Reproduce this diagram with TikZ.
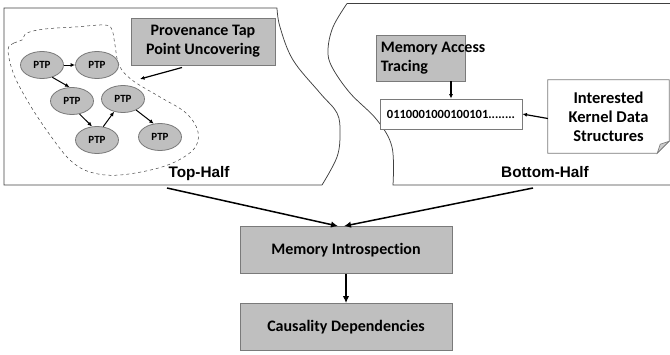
\documentclass[tikz,border=0pt]{standalone}
\usepackage{fontspec}
\setmainfont{Carlito}[BoldFont={Carlito Bold}, Ligatures=NoCommon]
\newfontfamily\labelfont{Liberation Sans}
\usetikzlibrary{shapes.geometric,arrows.meta}
\definecolor{boxfill}{HTML}{BFBFBF}
\definecolor{boxline}{HTML}{7A7A7A}
\definecolor{panelline}{HTML}{404040}
\tikzset{
  boxtext/.style={font=\fontsize{16}{19}\selectfont\bfseries},
  graybox/.style={draw=boxline, fill=boxfill, line width=0.8pt, inner sep=0pt,
    align=center, boxtext},
  ptp/.style={ellipse, draw=boxline, fill=boxfill, line width=0.8pt,
    minimum width=43pt, minimum height=27pt, inner sep=0pt,
    font=\fontsize{11}{13}\selectfont\bfseries},
  flow/.style={-{Latex[length=7pt,width=6.5pt]}, line width=1.5pt},
  link/.style={-{Latex[length=4.5pt,width=4pt]}, line width=1pt},
  panel/.style={draw=panelline, line width=0.75pt},
  halflabel/.style={font=\labelfont\fontsize{15.3}{18}\selectfont\bfseries},
}
\begin{document}
\begin{tikzpicture}[x=1pt,y=-1pt]
\useasboundingbox (0,0) rectangle (670,354);

% Top-Half panel with its wavy right side
\draw[panel] (322,185) -- (4,185) -- (4,8) -- (277,8)
  plot[smooth, tension=0.6] coordinates {(277,8) (280,27) (293,60) (320,93) (337,113) (340,133) (337,157) (322,185)};

% Bottom-Half panel, open at the right
\draw[panel] (670,3.5) -- (347,3.5)
  plot[smooth, tension=0.6] coordinates {(347,3.5) (333,27) (328,50) (332,67) (350,93) (377,120) (392,147) (393,185)}
  -- (670,185);

% dashed region around the tap points
\draw[dashed, draw=black!75, line width=0.5pt]
  plot[smooth cycle, tension=0.6] coordinates {
    (8,50) (14,43) (22,40) (27,33) (45,29) (75,27) (105,25) (112,30)
    (115,45) (119,65) (132,80) (160,97) (186,113) (198,132) (193,150)
    (165,166) (120,175) (90,172) (70,160) (50,135) (30,105) (14,75)};
\coordinate (blob) at (140,79);

% provenance tap points
\node[ptp] (p1) at (42,65)  {PTP};
\node[ptp] (p2) at (97,65)  {PTP};
\node[ptp] (p3) at (72,101) {PTP};
\node[ptp] (p4) at (123,99) {PTP};
\node[ptp] (p5) at (97,140) {PTP};
\node[ptp] (p6) at (160,137){PTP};
\draw[link] (p1.east) -- (p2.west);
\draw[link] (p1.-50) -- (p3.100);
\draw[link] (p3.-60) -- (p5.110);
\draw[link] (p5.65) -- (p4.-125);
\draw[link] (p4.-40) -- (p6.115);

\node[graybox, minimum width=144pt, minimum height=47pt] (prov) at (203,41.5)
  {Provenance Tap\\Point Uncovering};
\draw[link, line width=1.2pt] (182,67.5) -- (blob);

% bottom half contents; the caption runs past the box edge
\node[graybox, minimum width=89pt, minimum height=46pt] (mat) at (420.5,58) {};
\node[boxtext, anchor=west, align=left, inner sep=0pt] (mattext)
  at ([xshift=5pt]mat.west) {Memory Access\\Tracing};
\node[draw=boxline, fill=white, line width=0.8pt, minimum width=142pt, minimum height=30pt,
  inner sep=0pt, font=\fontsize{12.5}{15}\selectfont\bfseries] (bits) at (451,114)
  {0110001000100101........};
\draw[link, line width=1.2pt] (mat.south -| bits.north) -- (bits.north);

\node[minimum width=121pt, minimum height=73pt, inner sep=0pt, align=center,
  font=\fontsize{16.5}{19}\selectfont\bfseries] (note) at (608.5,116.5)
  {Interested\\Kernel Data\\Structures};
\draw[draw=boxline, line width=0.8pt]
  (note.north west) -- (note.north east) -- ([yshift=12pt]note.south east)
  -- ([xshift=-12pt]note.south east) -- (note.south west) -- cycle;
\draw[draw=boxline, fill=black!20, line width=0.6pt]
  ([yshift=12pt]note.south east) -- ([xshift=-12pt]note.south east)
  -- ([xshift=-9pt,yshift=9pt]note.south east) -- cycle;
\draw[link, line width=1.2pt] ([yshift=-2pt]note.west) -- (bits.east);

\node[halflabel] (toplbl) at (199,174) {Top-Half};
\node[halflabel] (botlbl) at (545,172) {Bottom-Half};

% lower flow
\node[graybox, minimum width=212pt, minimum height=47pt] (mi) at (346,250)
  {Memory Introspection};
\node[graybox, minimum width=212pt, minimum height=47pt] (cd) at (346,327)
  {Causality Dependencies};

\coordinate (tophalf) at (167,188);
\coordinate (bothalf) at (533,188);
\draw[flow] (tophalf) -- ([xshift=-8pt]mi.north);
\draw[flow] (bothalf) -- ([xshift=-2pt]mi.north);
\draw[flow] (mi.south) -- (cd.north);
\end{tikzpicture}
\end{document}
